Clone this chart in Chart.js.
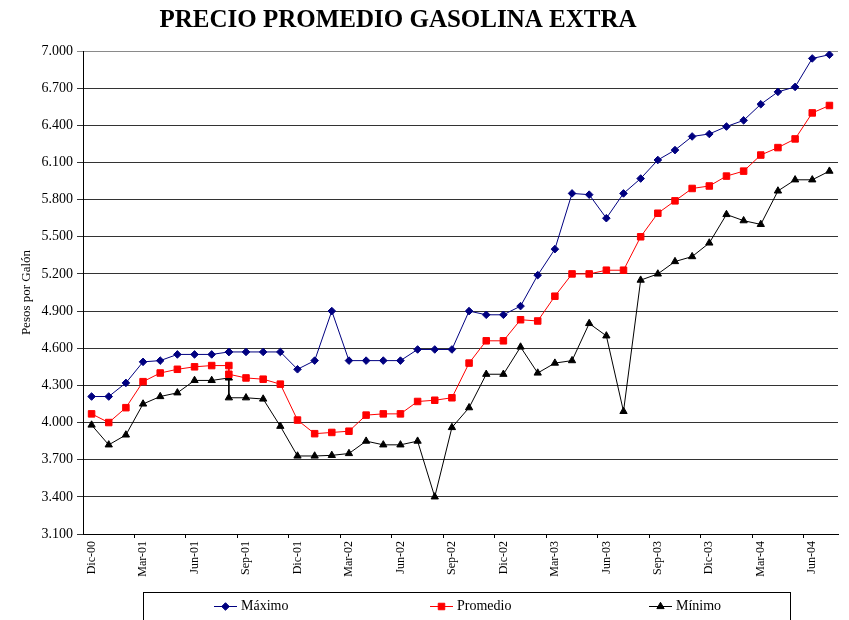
<!DOCTYPE html>
<html>
<head>
<meta charset="utf-8">
<title>Precio promedio gasolina extra</title>
<script src="https://cdn.jsdelivr.net/npm/chart.js@4.4.1/dist/chart.umd.min.js"></script>
<style>
  html, body { margin: 0; padding: 0; background: #fff; }
</style>
</head>
<body>
<canvas id="gas-chart" width="849" height="620"></canvas>
<script>
const chartTitle = "PRECIO PROMEDIO GASOLINA EXTRA";
const axisTitle = "Pesos por Galón";

// one slot per month on the axis
const months = [
  "Dic-00",
  "Ene-01", "Feb-01", "Mar-01", "Abr-01", "May-01", "Jun-01", "Jul-01", "Ago-01", "Sep-01", "Oct-01", "Nov-01", "Dic-01",
  "Ene-02", "Feb-02", "Mar-02", "Abr-02", "May-02", "Jun-02", "Jul-02", "Ago-02", "Sep-02", "Oct-02", "Nov-02", "Dic-02",
  "Ene-03", "Feb-03", "Mar-03", "Abr-03", "May-03", "Jun-03", "Jul-03", "Ago-03", "Sep-03", "Oct-03", "Nov-03", "Dic-03",
  "Ene-04", "Feb-04", "Mar-04", "Abr-04", "May-04", "Jun-04", "Jul-04"
];

// price observations (Ago-01 has two readings)
const periods = [
  "Dic-00",
  "Ene-01", "Feb-01", "Mar-01", "Abr-01", "May-01", "Jun-01", "Jul-01", "Ago-01", "Ago-01", "Sep-01", "Oct-01", "Nov-01", "Dic-01",
  "Ene-02", "Feb-02", "Mar-02", "Abr-02", "May-02", "Jun-02", "Jul-02", "Ago-02", "Sep-02", "Oct-02", "Nov-02", "Dic-02",
  "Ene-03", "Feb-03", "Mar-03", "Abr-03", "May-03", "Jun-03", "Jul-03", "Ago-03", "Sep-03", "Oct-03", "Nov-03", "Dic-03",
  "Ene-04", "Feb-04", "Mar-04", "Abr-04", "May-04", "Jun-04", "Jul-04"
];

const tickLabels = ["Dic-00", "Mar-01", "Jun-01", "Sep-01", "Dic-01", "Mar-02", "Jun-02", "Sep-02",
  "Dic-02", "Mar-03", "Jun-03", "Sep-03", "Dic-03", "Mar-04", "Jun-04"];

const maximo = [4.21, 4.21, 4.32, 4.49, 4.50, 4.55, 4.55, 4.55, 4.57, 4.57, 4.57, 4.57, 4.57, 4.43,
  4.50, 4.90, 4.50, 4.50, 4.50, 4.50, 4.59, 4.59, 4.59, 4.90, 4.87, 4.87,
  4.94, 5.19, 5.40, 5.85, 5.84, 5.65, 5.85, 5.97, 6.12, 6.20, 6.31, 6.33,
  6.39, 6.44, 6.57, 6.67, 6.71, 6.94, 6.97];

const promedio = [4.07, 4.00, 4.12, 4.33, 4.40, 4.43, 4.45, 4.46, 4.46, 4.39, 4.36, 4.35, 4.31, 4.02,
  3.91, 3.92, 3.93, 4.06, 4.07, 4.07, 4.17, 4.18, 4.20, 4.48, 4.66, 4.66,
  4.83, 4.82, 5.02, 5.20, 5.20, 5.23, 5.23, 5.50, 5.69, 5.79, 5.89, 5.91,
  5.99, 6.03, 6.16, 6.22, 6.29, 6.50, 6.56];

const minimo = [3.98, 3.82, 3.90, 4.15, 4.21, 4.24, 4.34, 4.34, 4.36, 4.20, 4.20, 4.19, 3.97, 3.73,
  3.73, 3.735, 3.75, 3.85, 3.82, 3.82, 3.85, 3.40, 3.96, 4.12, 4.39, 4.39,
  4.61, 4.40, 4.48, 4.50, 4.80, 4.70, 4.09, 5.15, 5.20, 5.30, 5.34, 5.45,
  5.68, 5.63, 5.60, 5.87, 5.96, 5.96, 6.03];

const serif = "'Liberation Serif', 'Times New Roman', serif";

function toPoints(values) {
  return values.map((v, i) => ({ x: months.indexOf(periods[i]), y: v }));
}

function makeSeries(label, values, color, style, radius) {
  return {
    label: label,
    data: toPoints(values),
    borderColor: color,
    backgroundColor: color,
    pointBackgroundColor: color,
    pointBorderColor: color,
    pointStyle: style,
    pointRadius: radius,
    pointBorderWidth: 1,
    borderWidth: 1,
    tension: 0,
  };
}

// title and the boxed legend along the bottom, laid out like the original sheet
const headerLegend = {
  id: "headerLegend",
  afterDraw(chart) {
    const ctx = chart.ctx;
    ctx.save();
    ctx.fillStyle = "#000";
    ctx.font = "bold 25px " + serif;
    ctx.textAlign = "center";
    ctx.textBaseline = "middle";
    ctx.fillText(chartTitle, 398, 21);

    ctx.strokeStyle = "#000";
    ctx.lineWidth = 1;
    ctx.strokeRect(143.5, 592.5, 647, 40);

    const starts = [214, 430, 649];
    chart.data.datasets.forEach((ds, i) => {
      const x = starts[i];
      const y = 606.5;
      ctx.strokeStyle = ds.borderColor;
      ctx.fillStyle = ds.borderColor;
      ctx.lineWidth = 1;
      ctx.beginPath();
      ctx.moveTo(x, y);
      ctx.lineTo(x + 23, y);
      ctx.stroke();
      Chart.helpers.drawPoint(ctx, { pointStyle: ds.pointStyle, radius: ds.pointRadius, borderWidth: 1 }, x + 11.5, y);
      ctx.fillStyle = "#000";
      ctx.font = "14px " + serif;
      ctx.textAlign = "left";
      ctx.textBaseline = "middle";
      ctx.fillText(ds.label, x + 27, y);
    });
    ctx.restore();
  },
};

const data = {
  datasets: [
    makeSeries("Máximo", maximo, "#000080", "rectRot", 3.8),
    makeSeries("Promedio", promedio, "#FF0000", "rect", 4.6),
    makeSeries("Mínimo", minimo, "#000000", "triangle", 4.2),
  ],
};

const config = {
  type: "line",
  data: data,
  plugins: [headerLegend],
  options: {
    responsive: false,
    animation: false,
    layout: { padding: { top: 51, right: 11, left: 0, bottom: 0 } },
    plugins: {
      legend: { display: false },
      title: { display: false },
      tooltip: { enabled: false },
    },
    scales: {
      x: {
        type: "linear",
        min: -0.5,
        max: months.length - 0.5,
        afterBuildTicks: (scale) => {
          const t = [];
          tickLabels.forEach((l) => {
            const i = months.indexOf(l);
            t.push({ value: i });
            if (i + 2.5 < months.length - 0.5) t.push({ value: i + 2.5 });
          });
          scale.ticks = t;
        },
        afterFit: (scale) => {
          scale.height = 86;
        },
        ticks: {
          autoSkip: false,
          maxRotation: 90,
          minRotation: 90,
          padding: 3,
          color: "#000",
          font: { family: serif, size: 12 },
          callback: (v) => (Number.isInteger(v) ? months[v] : ""),
        },
        grid: {
          drawOnChartArea: false,
          tickLength: 4,
          color: (c) => (c.tick && Number.isInteger(c.tick.value) ? "rgba(0,0,0,0)" : "#000"),
        },
        border: { color: "#000", width: 1 },
      },
      y: {
        min: 3.1,
        max: 7.0,
        afterFit: (scale) => {
          scale.width = 83;
        },
        ticks: {
          stepSize: 0.3,
          padding: 4,
          color: "#000",
          font: { family: serif, size: 14 },
          callback: (v) => v.toFixed(3),
        },
        grid: {
          tickLength: 6,
          color: (c) => (c.tick && c.tick.value > 6.99 ? "#8a8a8a" : "#333"),
        },
        border: { color: "#000", width: 1 },
        title: {
          display: true,
          text: axisTitle,
          color: "#000",
          font: { family: serif, size: 13 },
          padding: { top: 19, bottom: 0 },
        },
      },
    },
  },
};

new Chart(document.getElementById("gas-chart"), config);
</script>
</body>
</html>
